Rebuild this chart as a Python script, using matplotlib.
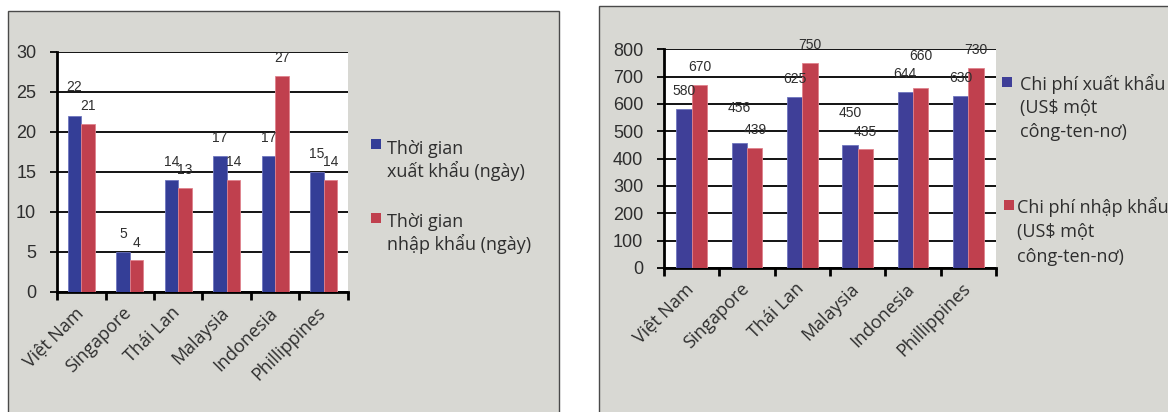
import matplotlib
matplotlib.use("Agg")
import matplotlib.pyplot as plt
import matplotlib.patches as mpatches
import matplotlib.transforms as mtransforms
import numpy as np

# ---- data ----
countries = ["Việt Nam", "Singapore", "Thái Lan", "Malaysia", "Indonesia", "Phillippines"]

export_days = [22, 5, 14, 17, 17, 15]
import_days = [21, 4, 13, 14, 27, 14]

export_cost = [580, 456, 625, 450, 644, 630]
import_cost = [670, 439, 750, 435, 660, 730]

days_legend = [["Thời gian", "xuất khẩu (ngày)"], ["Thời gian", "nhập khẩu (ngày)"]]
cost_legend = [["Chi phí xuất khẩu", "(US$ một", "công-ten-nơ)"],
               ["Chi phí nhập khẩu", "(US$ một", "công-ten-nơ)"]]

# label lift above the bar top (pixels); a few are raised to clear neighbours
days_lift_exp = [29, 17.5, 17.5, 18, 18, 18]
days_lift_imp = [17.5, 17, 18, 17.5, 18, 17.5]
cost_lift_exp = [18, 35.5, 18.5, 32, 18, 18]
cost_lift_imp = [18, 17.5, 18, 17.5, 31.5, 18.5]

# ---- style ----
W, H, DPI = 1168, 412, 100
PT = 72 / DPI
BLUE_L = "#343e97"
BLUE_R = "#3f3f98"
RED = "#c0404e"
PANEL = "#d8d8d3"
TXT = "#2e2e2e"
ARIAL = ["Liberation Sans", "DejaVu Sans"]
HUMAN = ["Open Sans", "DejaVu Sans"]

fig = plt.figure(figsize=(W / DPI, H / DPI), dpi=DPI, facecolor="white")


def fxy(px, py):
    return px / W, 1 - py / H


# grey panels behind each chart
for x0, x1, y0 in [(8, 559, 11), (599, 1200, 6)]:
    fig.patches.append(mpatches.Rectangle(
        (x0 / W, -0.1), (x1 - x0) / W, 1 - y0 / H + 0.1,
        transform=fig.transFigure, facecolor=PANEL, edgecolor="#4a4a4a",
        linewidth=1.0, zorder=-5))


def draw_chart(rect_px, exp, imp, lifts_e, lifts_i, ymax, ystep, blue):
    x0, x1, ytop, ybot = rect_px
    ax = fig.add_axes([x0 / W, 1 - ybot / H, (x1 - x0) / W, (ybot - ytop) / H])
    ax.set_zorder(3)
    ax.set_facecolor("white")
    x = np.arange(len(countries))
    w = 0.28
    ax.bar(x - w / 2, exp, w, color=blue, edgecolor="#6f76bf", linewidth=0.6, zorder=3)
    ax.bar(x + w / 2, imp, w, color=RED, edgecolor="#e0828c", linewidth=0.6, zorder=3)
    ax.set_xlim(-0.5, len(countries) - 0.5)
    ax.set_ylim(0, ymax)
    ax.set_axisbelow(True)

    ax.set_yticks(np.arange(0, ymax + 1, ystep))
    ax.yaxis.grid(True, color="black", linewidth=1.3)
    ax.tick_params(axis="y", direction="out", length=5, width=1.3, color="black",
                   pad=10, labelsize=13, labelcolor=TXT)
    for lab in ax.get_yticklabels():
        lab.set_family(ARIAL)

    ax.set_xticks(np.arange(-0.5, len(countries), 1.0))
    ax.set_xticklabels([])
    ax.tick_params(axis="x", direction="out", length=6, width=2, color="black")

    for s in ["top", "right"]:
        ax.spines[s].set_visible(False)
    for s in ["left", "bottom"]:
        ax.spines[s].set_color("black")
        ax.spines[s].set_linewidth(2)

    for xi, v, lift in zip(x - w / 2, exp, lifts_e):
        ax.annotate(str(v), (xi, v), xytext=(0, lift * PT), textcoords="offset points",
                    ha="center", va="center", fontsize=10, family=ARIAL, color=TXT,
                    annotation_clip=False)
    for xi, v, lift in zip(x + w / 2, imp, lifts_i):
        ax.annotate(str(v), (xi, v), xytext=(0, lift * PT), textcoords="offset points",
                    ha="center", va="center", fontsize=10, family=ARIAL, color=TXT,
                    annotation_clip=False)

    trans = mtransforms.offset_copy(ax.get_xaxis_transform(), fig=fig,
                                    x=-1 * PT, y=-18 * PT, units="points")
    for xi, name in zip(x, countries):
        ax.text(xi, 0, name, transform=trans, rotation=45, rotation_mode="anchor",
                ha="right", va="center", fontsize=13, family=HUMAN, color=TXT,
                clip_on=False)
    return ax


draw_chart((57, 348, 52, 292), export_days, import_days, days_lift_exp, days_lift_imp,
           30, 5, BLUE_L)
draw_chart((664, 996, 49.3, 268), export_cost, import_cost, cost_lift_exp, cost_lift_imp,
           800, 100, BLUE_R)


def legend_block(marker_px, text_x, baselines, lines, color):
    mx0, mx1, mcy = marker_px
    size = mx1 - mx0
    fig.patches.append(mpatches.Rectangle(
        fxy(mx0, mcy + size / 2), size / W, size / H, transform=fig.transFigure,
        facecolor=color, edgecolor="none", zorder=2))
    for b, line in zip(baselines, lines):
        fig.text(*fxy(text_x, b), line, ha="left", va="baseline", fontsize=13,
                 family=HUMAN, color=TXT)


legend_block((371, 381, 144), 387, [154, 177], days_legend[0], BLUE_L)
legend_block((371, 381, 218), 387, [227, 250], days_legend[1], RED)
legend_block((1002, 1012, 82), 1020, [90, 113, 137], cost_legend[0], BLUE_R)
legend_block((1004, 1014, 205), 1017, [213, 237, 262], cost_legend[1], RED)

fig.savefig("out.png", dpi=DPI, facecolor="white")
